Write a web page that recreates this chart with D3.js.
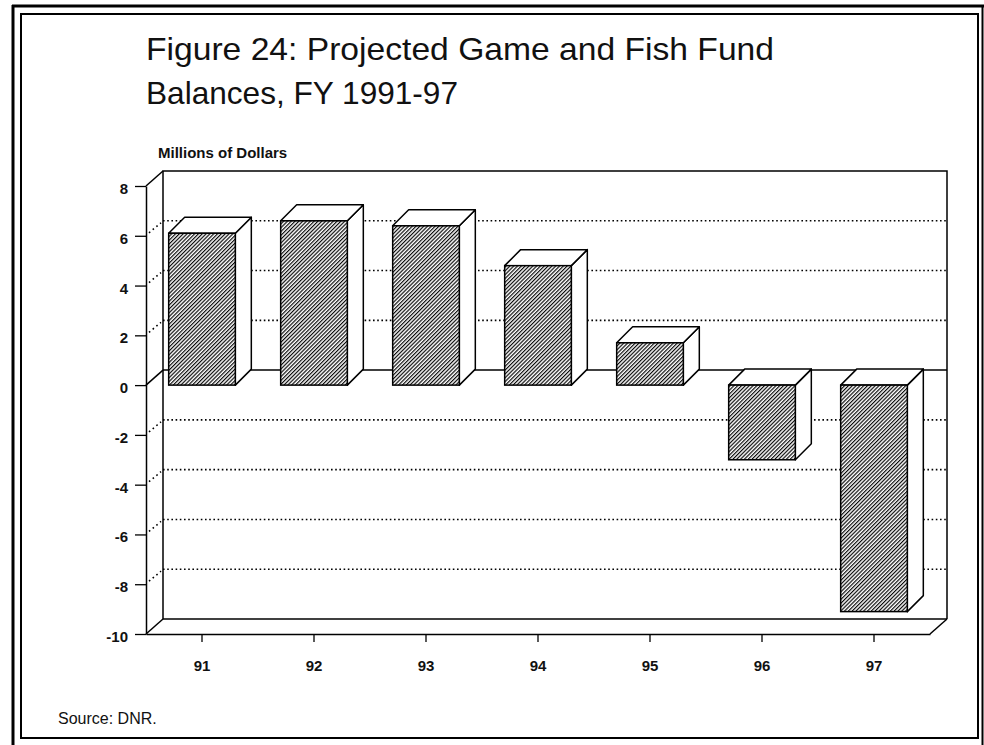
<!DOCTYPE html>
<html>
<head>
<meta charset="utf-8">
<script src="https://cdn.jsdelivr.net/npm/d3@7"></script>
<style>
  html, body { margin: 0; padding: 0; background: #fff; }
  svg { display: block; font-family: "Liberation Sans", Arial, Helvetica, sans-serif; }
</style>
</head>
<body>
<svg id="chart" width="984" height="745"></svg>
<script>
// ---- data ----
const categories = ["91", "92", "93", "94", "95", "96", "97"];
const balances = [6.1, 6.6, 6.4, 4.8, 1.7, -3.0, -9.1];
const yTicks = [8, 6, 4, 2, 0, -2, -4, -6, -8, -10];
const gridValues = [6, 4, 2, -2, -4, -6, -8];
const titleLines = ["Figure 24: Projected Game and Fish Fund", "Balances, FY 1991-97"];
const yAxisTitle = "Millions of Dollars";
const sourceNote = "Source: DNR.";

(function () {
// ---- layout ----
const svg = d3.select("#chart");
const pLeft = 146, pRight = 930, pTop = 186, pBottom = 634;
const wallDx = 17, wallDy = -15;   // depth of the chart box
const barDx = 16, barDy = -16;     // depth of each bar

const y = d3.scaleLinear().domain([-10, 8]).range([pBottom, pTop]);
const x = d3.scaleBand().domain(categories).range([pLeft, pRight]).padding(0);
const barW = x.bandwidth() * 0.595;

// ---- defs: hatch ----
const defs = svg.append("defs");
const pat = defs.append("pattern")
  .attr("id", "hatch").attr("patternUnits", "userSpaceOnUse")
  .attr("width", 2.7).attr("height", 10)
  .attr("patternTransform", "rotate(45)");
pat.append("rect").attr("width", 2.7).attr("height", 10).attr("fill", "#fff");
pat.append("line").attr("x1", 0.6).attr("x2", 0.6).attr("y1", 0).attr("y2", 10)
  .attr("stroke", "#000").attr("stroke-width", 1.15);

// ---- frame ----
svg.append("rect").attr("x", 21).attr("y", 14).attr("width", 957).attr("height", 724)
  .attr("fill", "none").attr("stroke", "#000").attr("stroke-width", 2);
svg.append("line").attr("x1", 12).attr("x2", 984).attr("y1", 6).attr("y2", 6)
  .attr("stroke", "#000").attr("stroke-width", 3);
svg.append("line").attr("x1", 13).attr("x2", 13).attr("y1", 5).attr("y2", 745)
  .attr("stroke", "#000").attr("stroke-width", 3);
svg.append("line").attr("x1", 982.5).attr("x2", 982.5).attr("y1", 5).attr("y2", 745)
  .attr("stroke", "#000").attr("stroke-width", 2);

// ---- titles ----
svg.append("text").attr("x", 146).attr("y", 60)
  .attr("font-size", 32).attr("textLength", 628).attr("lengthAdjust", "spacingAndGlyphs")
  .attr("fill", "#111").text(titleLines[0]);
svg.append("text").attr("x", 146).attr("y", 104)
  .attr("font-size", 32).attr("textLength", 312).attr("lengthAdjust", "spacingAndGlyphs")
  .attr("fill", "#111").text(titleLines[1]);
svg.append("text").attr("x", 158).attr("y", 158)
  .attr("font-size", 15).attr("font-weight", "bold").attr("fill", "#111").text(yAxisTitle);
svg.append("text").attr("x", 58).attr("y", 724)
  .attr("font-size", 16).attr("fill", "#111").text(sourceNote);

// ---- 3D box ----
const g = svg.append("g");
const stroke = (sel, w) => sel.attr("stroke", "#000").attr("stroke-width", w || 1.5).attr("fill", "none");
const bx0 = pLeft + wallDx, bx1 = pRight + wallDx;

stroke(g.append("path").attr("d",
  `M${bx0},${y(-10) + wallDy} V${y(8) + wallDy} H${bx1} V${y(-10) + wallDy}`));
stroke(g.append("line").attr("x1", bx0).attr("x2", bx1)
  .attr("y1", y(-10) + wallDy).attr("y2", y(-10) + wallDy));
stroke(g.append("line").attr("x1", pLeft).attr("y1", y(-10)).attr("x2", bx0).attr("y2", y(-10) + wallDy));
stroke(g.append("line").attr("x1", pRight).attr("y1", y(-10)).attr("x2", bx1).attr("y2", y(-10) + wallDy));
stroke(g.append("line").attr("x1", pLeft).attr("y1", y(8)).attr("x2", bx0).attr("y2", y(8) + wallDy));

gridValues.forEach(v => {
  g.append("line").attr("x1", bx0).attr("x2", bx1)
    .attr("y1", y(v) + wallDy).attr("y2", y(v) + wallDy)
    .attr("stroke", "#000").attr("stroke-width", 1.6).attr("stroke-dasharray", "1.6 2.6");
  g.append("line").attr("x1", pLeft + 3).attr("y1", y(v) - 3)
    .attr("x2", bx0 - 2).attr("y2", y(v) + wallDy + 2)
    .attr("stroke", "#000").attr("stroke-width", 1.6).attr("stroke-dasharray", "1.6 3.2");
});
stroke(g.append("line").attr("x1", bx0).attr("x2", bx1).attr("y1", y(0) + wallDy).attr("y2", y(0) + wallDy));
stroke(g.append("line").attr("x1", pLeft).attr("y1", y(0)).attr("x2", bx0).attr("y2", y(0) + wallDy));

// ---- bars ----
const bars = g.selectAll("g.bar").data(categories.map((c, i) => ({ c, v: balances[i] })))
  .join("g").attr("class", "bar");
bars.each(function (d) {
  const gb = d3.select(this);
  const cx = x(d.c) + x.bandwidth() / 2;
  const x0 = cx - barW / 2, x1 = cx + barW / 2;
  const yt = y(Math.max(0, d.v)), yb = y(Math.min(0, d.v));
  gb.append("path").attr("d",
    `M${x1},${yt} L${x1 + barDx},${yt + barDy} L${x1 + barDx},${yb + barDy} L${x1},${yb} Z`)
    .attr("fill", "#fff").attr("stroke", "#000").attr("stroke-width", 1.5).attr("stroke-linejoin", "round");
  gb.append("path").attr("d",
    `M${x0},${yt} L${x0 + barDx},${yt + barDy} L${x1 + barDx},${yt + barDy} L${x1},${yt} Z`)
    .attr("fill", "#fff").attr("stroke", "#000").attr("stroke-width", 1.5).attr("stroke-linejoin", "round");
  gb.append("rect").attr("x", x0).attr("y", yt).attr("width", barW).attr("height", yb - yt)
    .attr("fill", "url(#hatch)").attr("stroke", "#000").attr("stroke-width", 1.5);
});

// ---- axes ----
const yAxis = svg.append("g").attr("transform", `translate(${pLeft},0)`)
  .call(d3.axisLeft(y).tickValues(yTicks).tickSize(11).tickSizeOuter(0).tickPadding(7)
    .tickFormat(d => String(d)));
yAxis.select(".domain").attr("stroke-width", 1.5);
yAxis.selectAll(".tick line").attr("stroke-width", 1.3);
yAxis.selectAll("text").attr("font-size", 15).attr("font-weight", "bold").attr("fill", "#111")
  .attr("font-family", "'Liberation Sans', Arial, sans-serif").attr("dy", "0.5em");

const xAxis = svg.append("g").attr("transform", `translate(0,${pBottom})`)
  .call(d3.axisBottom(x).tickSize(8).tickSizeOuter(0).tickPadding(18));
xAxis.select(".domain").attr("stroke-width", 1.5);
xAxis.selectAll(".tick line").attr("stroke-width", 1.3);
xAxis.selectAll("text").attr("font-size", 15).attr("font-weight", "bold").attr("fill", "#111")
  .attr("font-family", "'Liberation Sans', Arial, sans-serif");
})();
</script>
</body>
</html>
